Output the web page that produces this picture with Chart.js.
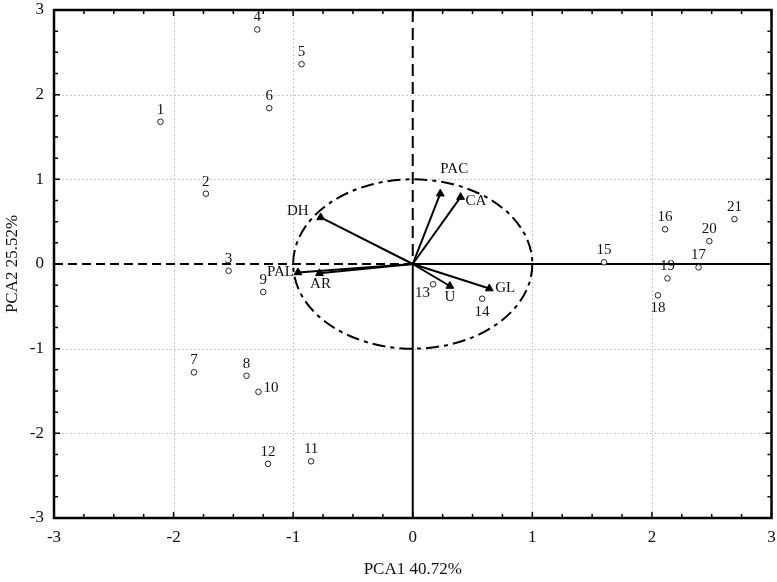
<!DOCTYPE html>
<html>
<head>
<meta charset="utf-8">
<script src="https://cdn.jsdelivr.net/npm/chart.js@4/dist/chart.umd.min.js"></script>
<style>
html,body{margin:0;padding:0;background:#fff;}
#wrap{width:777px;height:582px;}
</style>
</head>
<body>
<div id="wrap"><canvas id="c" width="777" height="582"></canvas></div>
<script>
// ---- data ----
const sampleIds = ['1','2','3','4','5','6','7','8','9','10','11','12','13','14','15','16','17','18','19','20','21'];
const pc1 = [-2.11,-1.73,-1.54,-1.30,-0.93,-1.20,-1.83,-1.39,-1.25,-1.29,-0.85,-1.21,0.17,0.58,1.60,2.11,2.39,2.05,2.13,2.48,2.69];
const pc2 = [1.68,0.83,-0.08,2.77,2.36,1.84,-1.28,-1.32,-0.33,-1.51,-2.33,-2.36,-0.24,-0.41,0.02,0.41,-0.04,-0.37,-0.17,0.27,0.53];
const variables = ['PAC','CA','DH','PAL','AR','U','GL'];
const load1 = [0.23,0.40,-0.77,-0.96,-0.78,0.31,0.64];
const load2 = [0.83,0.79,0.55,-0.10,-0.11,-0.26,-0.29];
const axisTicks = [-3,-2,-1,0,1,2,3];
const xTitle = 'PCA1 40.72%';
const yTitle = 'PCA2 25.52%';

// ---- label placement (style only) ----
const sampleLabelPos = {'10':'right','13':'leftbelow','14':'below','18':'below'};
const varLabelPos = {PAC:[14,-25,'center'],CA:[5,4,'left'],DH:[-12,-6,'right'],PAL:[-4,0,'right'],AR:[1,11,'center'],U:[0,11,'center'],GL:[6,0,'left']};

const FONT = '"Liberation Serif", "Times New Roman", serif';

const datasets = [{
  label:'samples',
  data: pc1.map((v,i)=>({x:v,y:pc2[i]})),
  pointRadius:2.8,
  pointBorderWidth:1,
  pointBorderColor:'#222',
  pointBackgroundColor:'#fff',
  showLine:false
}];
variables.forEach((n,i)=>{
  datasets.push({
    label:n,
    data:[{x:0,y:0},{x:load1[i],y:load2[i]}],
    showLine:true,
    borderColor:'#000',
    borderWidth:2,
    pointStyle:'triangle',
    pointRadius:[0,4.5],
    pointBackgroundColor:'#000',
    pointBorderColor:'#000',
    pointBorderWidth:1
  });
});

const decor = {
  id:'decor',
  beforeDatasetsDraw(chart){
    const {ctx, chartArea:a, scales:{x,y}} = chart;
    const x0 = x.getPixelForValue(0), y0 = y.getPixelForValue(0);
    ctx.save();
    // grid
    ctx.strokeStyle='#c8c8c8'; ctx.lineWidth=1; ctx.setLineDash([2,2]);
    axisTicks.forEach(t=>{
      if(t===0||Math.abs(t)===3) return;
      const px=Math.round(x.getPixelForValue(t))+0.5;
      ctx.beginPath(); ctx.moveTo(px,a.top); ctx.lineTo(px,a.bottom); ctx.stroke();
      const py=Math.round(y.getPixelForValue(t))+0.5;
      ctx.beginPath(); ctx.moveTo(a.left,py); ctx.lineTo(a.right,py); ctx.stroke();
    });
    // zero axes
    ctx.strokeStyle='#000'; ctx.lineWidth=2;
    ctx.setLineDash([9,5]);
    ctx.beginPath(); ctx.moveTo(a.left,y0); ctx.lineTo(x0,y0); ctx.stroke();
    ctx.setLineDash([12,6]);
    ctx.beginPath(); ctx.moveTo(x0,a.top); ctx.lineTo(x0,y0); ctx.stroke();
    ctx.setLineDash([]);
    ctx.beginPath(); ctx.moveTo(x0,y0); ctx.lineTo(a.right,y0); ctx.stroke();
    ctx.beginPath(); ctx.moveTo(x0,y0); ctx.lineTo(x0,a.bottom); ctx.stroke();
    // unit circle
    const rx = x.getPixelForValue(1)-x0, ry = y0-y.getPixelForValue(1);
    ctx.setLineDash([13,5,4,5]);
    ctx.lineWidth=2;
    ctx.beginPath(); ctx.ellipse(x0,y0,rx,ry,0,0,Math.PI*2); ctx.stroke();
    ctx.restore();
  },
  afterDatasetsDraw(chart){
    const {ctx, chartArea:a, scales:{x,y}} = chart;
    ctx.save();
    // frame
    ctx.strokeStyle='#000'; ctx.lineWidth=2.5; ctx.setLineDash([]);
    ctx.strokeRect(a.left,a.top,a.right-a.left,a.bottom-a.top);
    // inward ticks every 0.25
    ctx.lineWidth=1.5;
    for(let k=-12;k<=12;k++){
      const v=k/4, len=(k%4===0)?6:4;
      const px=x.getPixelForValue(v), py=y.getPixelForValue(v);
      ctx.beginPath();
      ctx.moveTo(px,a.bottom); ctx.lineTo(px,a.bottom-len);
      ctx.moveTo(px,a.top); ctx.lineTo(px,a.top+len);
      ctx.moveTo(a.left,py); ctx.lineTo(a.left+len,py);
      ctx.moveTo(a.right,py); ctx.lineTo(a.right-len,py);
      ctx.stroke();
    }
    // sample labels
    ctx.fillStyle='#111';
    ctx.font='15px '+FONT;
    sampleIds.forEach((id,i)=>{
      const px=x.getPixelForValue(pc1[i]), py=y.getPixelForValue(pc2[i]);
      const pos=sampleLabelPos[id]||'above';
      ctx.textBaseline='middle';
      if(pos==='above'){ctx.textAlign='center'; ctx.fillText(id,px,py-12);}
      else if(pos==='below'){ctx.textAlign='center'; ctx.fillText(id,px,py+13);}
      else if(pos==='right'){ctx.textAlign='left'; ctx.fillText(id,px+5,py-4);}
      else if(pos==='leftbelow'){ctx.textAlign='right'; ctx.fillText(id,px-3,py+9);}
    });
    // variable labels
    ctx.font='15px '+FONT;
    variables.forEach((n,i)=>{
      const px=x.getPixelForValue(load1[i]), py=y.getPixelForValue(load2[i]);
      const p=varLabelPos[n];
      ctx.textAlign=p[2]; ctx.textBaseline='middle';
      ctx.fillText(n,px+p[0],py+p[1]);
    });
    ctx.restore();
  }
};

new Chart(document.getElementById('c'),{
  type:'scatter',
  data:{datasets},
  options:{
    responsive:false,
    animation:false,
    devicePixelRatio:1,
    layout:{padding:{top:10,right:3,left:0,bottom:0}},
    plugins:{legend:{display:false},tooltip:{enabled:false}},
    scales:{
      x:{
        type:'linear', min:-3, max:3,
        afterFit(s){ s.height = 64; s.paddingLeft = 0; s.paddingRight = 0; },
        afterBuildTicks(s){ s.ticks = axisTicks.map(v=>({value:v})); },
        grid:{display:false, drawTicks:false},
        border:{display:false},
        ticks:{color:'#111', padding:9, font:{family:FONT,size:17}, maxRotation:0},
        title:{display:true, text:xTitle, color:'#111', font:{family:FONT,size:17}, padding:{top:0,bottom:2}}
      },
      y:{
        type:'linear', min:-3, max:3,
        afterFit(s){ s.width = 54; s.paddingTop = 0; s.paddingBottom = 0; },
        afterBuildTicks(s){ s.ticks = axisTicks.map(v=>({value:v})); },
        grid:{display:false, drawTicks:false},
        border:{display:false},
        ticks:{color:'#111', padding:10, font:{family:FONT,size:17}},
        title:{display:true, text:yTitle, color:'#111', font:{family:FONT,size:17}, padding:{top:2,bottom:0}}
      }
    }
  },
  plugins:[decor]
});
</script>
</body>
</html>
